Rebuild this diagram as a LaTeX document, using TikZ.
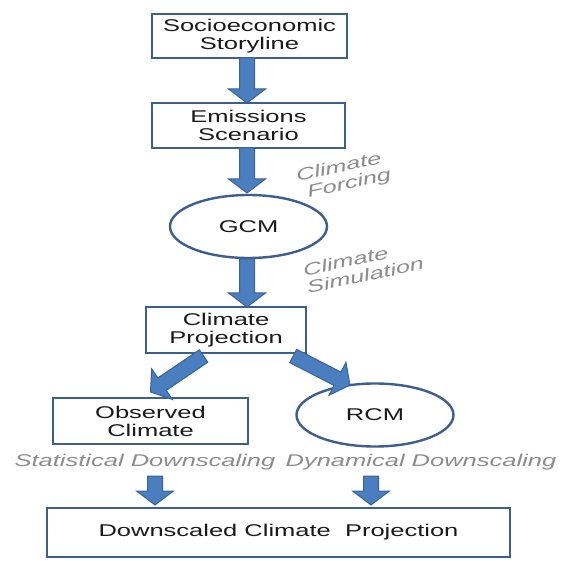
\documentclass[tikz,border=0pt]{standalone}
\usepackage{fontspec}
\usepackage{graphicx}
\newfontfamily\wf[FakeStretch=1.5]{Liberation Sans}
\newfontfamily\nf{Liberation Sans}
\usetikzlibrary{shapes.geometric,calc}
\definecolor{boxline}{HTML}{3D5F8F}
\definecolor{arrfill}{HTML}{4A7EBF}
\definecolor{arrline}{HTML}{38649A}
\definecolor{lblgray}{HTML}{8C8C8C}
\definecolor{txt}{HTML}{1A1A1A}
\newcommand\blockarrow[2]{%
  \coordinate (bah) at ($(#2)!14pt!(#1)$);
  \draw[barrow] ($(#1)!7.5pt!90:(#2)$) -- ($(bah)!7.5pt!90:(#2)$) -- ($(bah)!18.5pt!90:(#2)$) -- (#2) -- ($(bah)!18.5pt!-90:(#2)$) -- ($(bah)!7.5pt!-90:(#2)$) -- ($(#1)!7.5pt!-90:(#2)$) -- cycle;}
\newcommand\widestack[1]{\scalebox{1.5}[1]{\begin{tabular}{@{}l@{}}#1\end{tabular}}}
\tikzset{
  box/.style={draw=boxline, line width=2.4pt, fill=white, align=center, inner sep=0pt, outer sep=0pt,
    font=\wf\fontsize{17}{18}\selectfont, text=txt},
  oval/.style={ellipse, draw=boxline, line width=2.4pt, minimum width=157pt, minimum height=63pt,
    inner sep=0pt, outer sep=0pt, font=\wf\fontsize{17}{18}\selectfont, text=txt},
  lbl/.style={font=\wf\itshape\fontsize{17}{18}\selectfont, text=lblgray},
  rlbl/.style={font=\nf\itshape\fontsize{17}{18}\selectfont, text=lblgray, inner sep=0pt, rotate=12},
  barrow/.style={fill=arrfill, draw=arrline, line width=1pt, line join=miter}
}
\begin{document}
\begin{tikzpicture}[x=1pt,y=-1pt]
\useasboundingbox[fill=white] (0,0) rectangle (562,561);
% nodes
\node[box, minimum width=195pt, minimum height=44pt] (b1) at (249.5,36) {Socioeconomic\\Storyline};
\node[box, minimum width=193pt, minimum height=45pt] (b2) at (248.5,125.5) {Emissions\\Scenario};
\node[oval] (gcm) at (248.5,226.5) {GCM};
\node[box, minimum width=160pt, minimum height=46pt] (b3) at (226,330) {Climate\\Projection};
\node[box, minimum width=195pt, minimum height=46pt] (b4) at (150.5,421) {Observed\\Climate};
\node[oval] (rcm) at (375,415) {RCM};
\node[box, minimum width=463pt, minimum height=49pt] (b5) at (278.5,532.5) {Downscaled Climate\ \ Projection};
% labels
\node[rlbl] (lf) at (344,177) {\widestack{Climate\\\hspace*{5pt}Forcing}};
\node[rlbl] (ls) at (364,269) {\widestack{Climate\\Simulation}};
\node[lbl] (lst) at (145,462) {Statistical Downscaling};
\node[lbl] (ldy) at (421,462) {Dynamical Downscaling};
% connector end points
\coordinate (a1s) at (b1.south -| 247,0);
\coordinate (a1e) at (b2.north -| 247,0);
\coordinate (a2s) at (b2.south -| 247,0);
\coordinate (a2e) at ($(gcm.north -| 247,0)+(0,-2)$);
\coordinate (a3s) at ($(gcm.south -| 247,0)+(0,1)$);
\coordinate (a3e) at (b3.north -| 247,0);
\coordinate (a4s) at ($(b3.south west)!0.36!(b3.south east)+(0,3)$);
\coordinate (a4e) at ($(b4.north)+(0,-6)$);
\coordinate (a5s) at ($(b3.south west)!0.92!(b3.south east)+(0,3)$);
\coordinate (a5e) at (rcm.130);
\coordinate (a6s) at (155,476);
\coordinate (a6e) at ($(b5.north -| a6s)+(0,-3)$);
\coordinate (a7s) at (371,476);
\coordinate (a7e) at ($(b5.north -| a7s)+(0,-3)$);
% connectors
\blockarrow{a1s}{a1e}
\blockarrow{a2s}{a2e}
\blockarrow{a3s}{a3e}
\blockarrow{a4s}{a4e}
\blockarrow{a5s}{a5e}
\blockarrow{a6s}{a6e}
\blockarrow{a7s}{a7e}
\end{tikzpicture}
\end{document}
